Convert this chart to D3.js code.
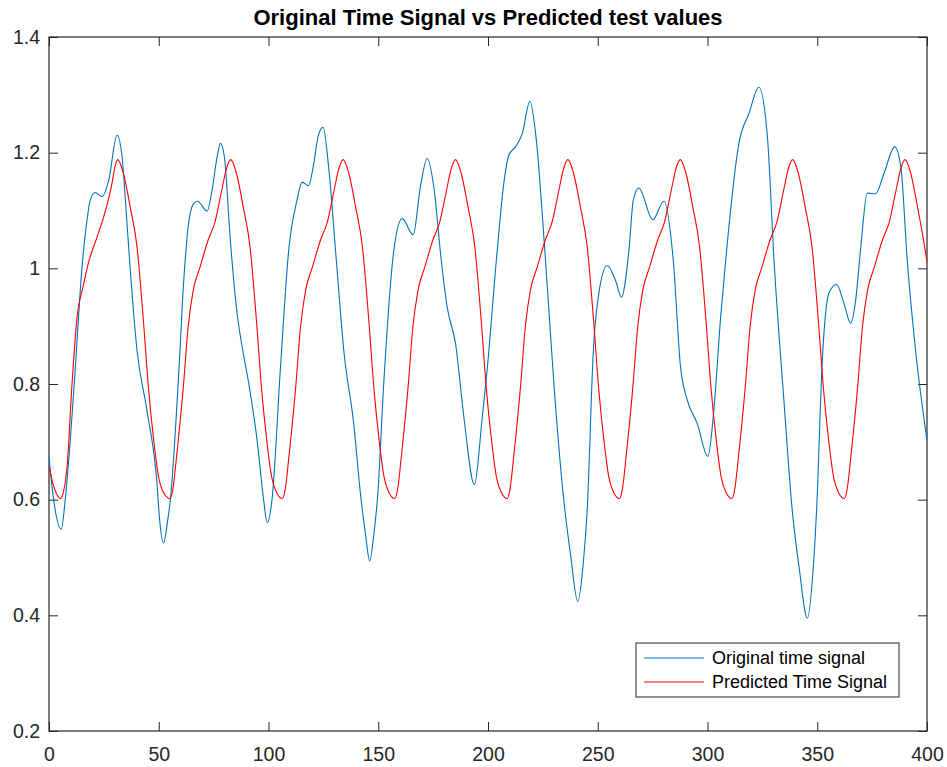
<!DOCTYPE html>
<html>
<head>
<meta charset="utf-8">
<script src="https://cdn.jsdelivr.net/npm/d3@7"></script>
<style>
	body { margin: 0; background: #fff; }
	svg { display: block; font-family: "Liberation Sans", Arial, Helvetica, sans-serif; }
	.axis text { fill: #262626; font-size: 19.5px; }
	.axis line { stroke: #262626; }
	.line { fill: none; stroke-width: 1.1; }
</style>
</head>
<body>
<svg id="chart"></svg>
<script>
var chartTitle = "Original Time Signal vs Predicted test values";
var seriesNames = ["Original time signal", "Predicted Time Signal"];
var seriesColors = ["#0072bd", "#ff0000"];
var xTicks = [0, 50, 100, 150, 200, 250, 300, 350, 400];
var yTicks = [0.2, 0.4, 0.6, 0.8, 1.0, 1.2, 1.4];
var yTickLabels = ["0.2", "0.4", "0.6", "0.8", "1", "1.2", "1.4"];

// [sample, value]
var originalSignal = [
	[0,0.674],[2.1,0.600],[5.6,0.549],[7.4,0.600],[11.5,0.800],[15.0,1.000],[17.3,1.083],[18.8,1.118],
	[21.1,1.131],[24.2,1.124],[27.2,1.152],[31.0,1.230],[33.3,1.193],[34.8,1.118],[36.7,1.014],[40.1,0.858],
	[44.6,0.755],[49.2,0.628],[50.4,0.565],[52.2,0.525],[54.1,0.565],[55.3,0.600],[59.1,0.818],[61.4,0.980],
	[63.6,1.078],[65.9,1.112],[67.7,1.116],[72.0,1.099],[74.3,1.135],[76.6,1.193],[78.1,1.216],[79.9,1.193],
	[82.6,1.049],[85.7,0.922],[88.0,0.864],[91.0,0.801],[94.8,0.703],[97.8,0.599],[99.4,0.560],[101.6,0.600],
	[105.4,0.825],[109.2,1.031],[113.0,1.118],[115.3,1.149],[118.2,1.143],[120.5,1.178],[122.7,1.230],[124.9,1.244],
	[127.4,1.175],[130.9,1.014],[134.3,0.858],[138.8,0.732],[141.9,0.610],[144.2,0.540],[146.1,0.494],[148.0,0.540],
	[149.8,0.610],[152.5,0.801],[157.1,1.031],[160.9,1.086],[165.9,1.058],[169.2,1.141],[172.3,1.190],[175.3,1.141],
	[178.7,1.014],[181.4,0.933],[185.2,0.870],[189.0,0.743],[193.8,0.626],[197.4,0.743],[199.6,0.824],[204.2,1.031],
	[207.2,1.147],[209.5,1.196],[212.5,1.210],[215.6,1.233],[219.1,1.289],[221.7,1.233],[226.2,1.014],[230.0,0.801],
	[234.5,0.600],[237.6,0.505],[240.9,0.424],[243.4,0.490],[245.2,0.582],[248.0,0.858],[250.5,0.957],[254.3,1.005],
	[258.1,0.979],[260.8,0.950],[264.2,1.031],[266.2,1.118],[268.7,1.139],[275.1,1.084],[280.1,1.116],[284.4,1.014],
	[287.7,0.830],[290.8,0.772],[295.3,0.732],[300.2,0.675],[302.9,0.755],[306.0,0.916],[308.7,1.031],[314.3,1.216],
	[318.9,1.268],[323.4,1.313],[327.3,1.227],[330.3,1.014],[334.8,0.772],[338.6,0.582],[341.7,0.484],[345.5,0.395],
	[348.2,0.484],[349.7,0.582],[352.3,0.841],[355.3,0.957],[358.8,0.972],[362.2,0.939],[365.2,0.905],[367.5,0.945],
	[369.7,1.031],[372.8,1.130],[376.6,1.129],[380.4,1.164],[385.3,1.210],[388.1,1.175],[391.0,1.014],[394.8,0.858],
	[400,0.703]
];

var predictedSignal = [
	[0,0.657],[2,0.625],[4,0.606],[5.3,0.602],[6.5,0.612],[8.3,0.660],[10.5,0.801],[12.8,0.916],
	[15.5,0.968],[18.0,1.010],[21.9,1.054],[24.9,1.089],[28.7,1.147],[30.0,1.175],[31.3,1.188],[33.7,1.167],
	[37.0,1.106],[40.1,1.037],[43.1,0.905],[45.4,0.789],[47.7,0.703],[49.9,0.640],[52.1,0.613],[55.2,0.602],
	[56.5,0.620],[58.1,0.674],[61.2,0.795],[63.4,0.899],[65.7,0.962],[68.8,1.002],[72.5,1.049],[75.6,1.080],
	[78.7,1.135],[80.9,1.173],[82.8,1.188],[85.2,1.167],[88.5,1.106],[91.6,1.037],[94.6,0.905],[96.9,0.789],
	[99.2,0.703],[101.4,0.640],[103.6,0.613],[106.4,0.602],[107.7,0.620],[109.3,0.674],[112.4,0.795],[114.6,0.899],
	[116.9,0.962],[120.0,1.002],[123.7,1.049],[126.8,1.080],[129.9,1.135],[132.1,1.173],[134.0,1.188],[136.4,1.167],
	[139.7,1.106],[142.8,1.037],[145.8,0.905],[148.1,0.789],[150.4,0.703],[152.6,0.640],[154.8,0.613],[157.6,0.602],
	[158.9,0.620],[160.5,0.674],[163.6,0.795],[165.8,0.899],[168.1,0.962],[171.2,1.002],[174.9,1.049],[178.0,1.080],
	[181.1,1.135],[183.3,1.173],[185.2,1.188],[187.6,1.167],[190.9,1.106],[194.0,1.037],[197.0,0.905],[199.3,0.789],
	[201.6,0.703],[203.8,0.640],[206.0,0.613],[208.8,0.602],[210.1,0.620],[211.7,0.674],[214.8,0.795],[217.0,0.899],
	[219.3,0.962],[222.4,1.002],[226.1,1.049],[229.2,1.080],[232.3,1.135],[234.5,1.173],[236.4,1.188],[238.8,1.167],
	[242.1,1.106],[245.2,1.037],[248.2,0.905],[250.5,0.789],[252.8,0.703],[255.0,0.640],[257.2,0.613],[260.0,0.602],
	[261.3,0.620],[262.9,0.674],[266.0,0.795],[268.2,0.899],[270.5,0.962],[273.6,1.002],[277.3,1.049],[280.4,1.080],
	[283.5,1.135],[285.7,1.173],[287.6,1.188],[290.0,1.167],[293.3,1.106],[296.4,1.037],[299.4,0.905],[301.7,0.789],
	[304.0,0.703],[306.2,0.640],[308.4,0.613],[311.2,0.602],[312.5,0.620],[314.1,0.674],[317.2,0.795],[319.4,0.899],
	[321.7,0.962],[324.8,1.002],[328.5,1.049],[331.6,1.080],[334.7,1.135],[336.9,1.173],[338.8,1.188],[341.2,1.167],
	[344.5,1.106],[347.6,1.037],[350.6,0.905],[352.9,0.789],[355.2,0.703],[357.4,0.640],[359.6,0.613],[362.4,0.602],
	[363.7,0.620],[365.3,0.674],[368.4,0.795],[370.6,0.899],[372.9,0.962],[376.0,1.002],[379.7,1.049],[382.8,1.080],
	[385.9,1.135],[388.1,1.173],[390.0,1.188],[392.4,1.167],[395.7,1.106],[398.8,1.040],[400,1.011]
];

var width = 947, height = 767;
var margin = { "top": 37, "right": 20, "bottom": 36, "left": 49 };
var innerW = width - margin.left - margin.right;
var innerH = height - margin.top - margin.bottom;

var svg = d3.select("#chart")
	.attr("width", width)
	.attr("height", height);

var x = d3.scaleLinear().domain([0, 400]).range([margin.left, margin.left + innerW]);
var y = d3.scaleLinear().domain([0.2, 1.4]).range([margin.top + innerH, margin.top]);

svg.append("defs").append("clipPath")
	.attr("id", "plotClip")
	.append("rect")
	.attr("x", margin.left).attr("y", margin.top)
	.attr("width", innerW).attr("height", innerH);

// axes: ticks point inward, mirrored on top and right
svg.append("g")
	.attr("class", "axis")
	.attr("transform", "translate(0," + (margin.top + innerH) + ")")
	.call(d3.axisBottom(x).tickValues(xTicks).tickSizeInner(-9).tickSizeOuter(0).tickPadding(16));
svg.append("g")
	.attr("class", "axis")
	.attr("transform", "translate(0," + margin.top + ")")
	.call(d3.axisTop(x).tickValues(xTicks).tickSizeInner(-9).tickSizeOuter(0).tickFormat(""));
svg.append("g")
	.attr("class", "axis")
	.attr("transform", "translate(" + margin.left + ",0)")
	.call(d3.axisLeft(y).tickValues(yTicks).tickSizeInner(-9).tickSizeOuter(0).tickPadding(9)
		.tickFormat(function(d, i) { return yTickLabels[i]; }));
svg.append("g")
	.attr("class", "axis")
	.attr("transform", "translate(" + (margin.left + innerW) + ",0)")
	.call(d3.axisRight(y).tickValues(yTicks).tickSizeInner(-9).tickSizeOuter(0).tickFormat(""));
svg.selectAll(".axis .domain").remove();
svg.selectAll(".axis").attr("font-family", null).attr("font-size", null);

svg.append("rect")
	.attr("x", margin.left).attr("y", margin.top)
	.attr("width", innerW).attr("height", innerH)
	.attr("fill", "none")
	.attr("stroke", "#262626")
	.attr("stroke-width", 1.2);

var valueline = d3.line()
	.x(function(d) { return x(d[0]); })
	.y(function(d) { return y(d[1]); })
	.curve(d3.curveMonotoneX);

var plot = svg.append("g").attr("clip-path", "url(#plotClip)");
[originalSignal, predictedSignal].forEach(function(series, i) {
	plot.append("path")
		.datum(series)
		.attr("class", "line")
		.attr("stroke", seriesColors[i])
		.attr("d", valueline);
});

svg.append("text")
	.attr("x", margin.left + innerW / 2)
	.attr("y", 25)
	.attr("text-anchor", "middle")
	.attr("font-size", "22px")
	.attr("font-weight", "bold")
	.attr("fill", "#000")
	.text(chartTitle);

// legend, lower right
var legend = svg.append("g").attr("transform", "translate(636,643)");
legend.append("rect")
	.attr("width", 263).attr("height", 54)
	.attr("fill", "#fff")
	.attr("stroke", "#262626")
	.attr("stroke-width", 1);
seriesNames.forEach(function(name, i) {
	var row = 15 + i * 24;
	legend.append("line")
		.attr("x1", 8).attr("x2", 68)
		.attr("y1", row).attr("y2", row)
		.attr("stroke", seriesColors[i])
		.attr("stroke-width", 1.1);
	legend.append("text")
		.attr("x", 76).attr("y", row)
		.attr("dy", "0.36em")
		.attr("font-size", "18px")
		.attr("fill", "#000")
		.text(name);
});
</script>
</body>
</html>
